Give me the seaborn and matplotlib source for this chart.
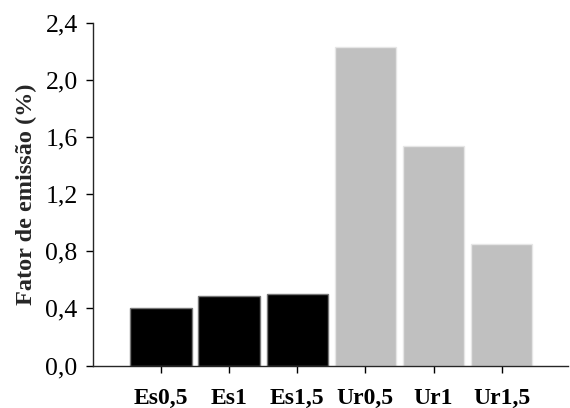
import matplotlib
matplotlib.use("Agg")
import matplotlib.pyplot as plt
import seaborn as sns
import pandas as pd

categories = ["Es0,5", "Es1", "Es1,5", "Ur0,5", "Ur1", "Ur1,5"]
values = [0.40, 0.49, 0.50, 2.23, 1.54, 0.85]
colors = ["#000000", "#000000", "#000000", "#C0C0C0", "#C0C0C0", "#C0C0C0"]
yticks = [0.0, 0.4, 0.8, 1.2, 1.6, 2.0, 2.4]

sns.set_style("ticks")
plt.rcParams['font.family'] = ['Liberation Serif', 'DejaVu Serif']

df = pd.DataFrame({"cat": categories, "val": values})
fig = plt.figure(figsize=(5.7, 4.08), dpi=100)
ax = fig.add_axes([0.163, 0.104, 0.833, 0.840])
sns.barplot(data=df, x="cat", y="val", hue="cat", palette=colors, legend=False,
            width=0.9, ax=ax, saturation=1)
for i, p in enumerate(ax.patches):
    p.set_edgecolor("#777777" if i < 3 else "#e6e6e6")
    p.set_linewidth(1.0)

ax.set_xlim(-1.0, 5.97)
ax.set_ylim(0, 2.4)
ax.set_yticks(yticks)
ax.set_yticklabels([f"{t:.1f}".replace(".", ",") for t in yticks], fontsize=18.5)
ax.set_xticks(range(len(categories)))
ax.set_xticklabels(categories, fontsize=17, fontweight="bold")
ax.set_xlabel("")
ax.set_ylabel("Fator de emissão (%)", fontsize=17.5, fontweight="bold", labelpad=6)
for s in ["top", "right"]:
    ax.spines[s].set_visible(False)
ax.spines["left"].set_linewidth(1.0)
ax.spines["bottom"].set_linewidth(1.0)
ax.tick_params(axis="both", direction="out", length=5, width=1, colors="black")
ax.tick_params(axis="y", pad=6)
ax.tick_params(axis="x", pad=11)
fig.savefig("out.png", dpi=100)
